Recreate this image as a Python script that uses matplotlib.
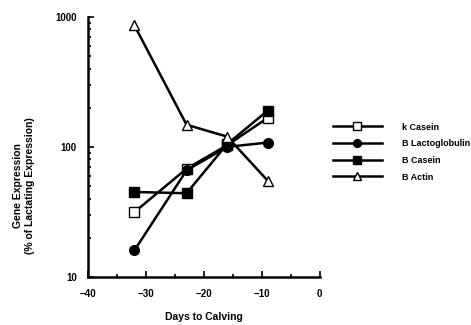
import matplotlib
matplotlib.use("Agg")
import matplotlib.pyplot as plt
from matplotlib.ticker import FixedLocator, NullFormatter

plt.rcParams['font.family'] = ['Liberation Sans', 'DejaVu Sans']

days = [-32, -23, -16, -9]
k_casein = [31.5, 68, 103, 167]
b_lacto = [16, 66, 100, 108]
b_casein = [45, 44, 105, 190]
b_actin = [860, 148, 120, 55]

series = [
    ("k Casein", k_casein, dict(marker='s', mfc='white')),
    ("B Lactoglobulin", b_lacto, dict(marker='o', mfc='black')),
    ("B Casein", b_casein, dict(marker='s', mfc='black')),
    ("B Actin", b_actin, dict(marker='^', mfc='white')),
]

fig = plt.figure(figsize=(4.71, 3.25), dpi=100)
ax = fig.add_axes([0.187, 0.148, 0.492, 0.8])

for label, vals, st in series:
    ax.plot(days, vals, color='black', lw=1.8, mec='black', mew=1.0, ms=7,
            label=label, **st)

ax.set_yscale('log')
ax.set_ylim(10, 1000)
ax.set_xlim(-40, 0)
ax.set_xticks([-40, -30, -20, -10, 0])
ax.xaxis.set_minor_locator(FixedLocator([-35, -25, -15, -5]))
ax.set_yticks([10, 100, 1000])
ax.set_yticklabels(['10', '100', '1000'])
ax.yaxis.set_minor_formatter(NullFormatter())

for s in ['top', 'right']:
    ax.spines[s].set_visible(False)
for s in ['left', 'bottom']:
    ax.spines[s].set_linewidth(1.8)

ax.tick_params(axis='both', which='both', direction='in', width=1.2, labelsize=7)
ax.tick_params(axis='both', which='major', length=4)
ax.tick_params(axis='both', which='minor', length=2.5)
ax.tick_params(axis='y', pad=8)
ax.tick_params(axis='x', pad=9)
for t in ax.get_xticklabels() + ax.get_yticklabels():
    t.set_fontweight('bold')

ax.set_xlabel('Days to Calving', fontsize=7.5, fontweight='bold')
ax.xaxis.set_label_coords(0.5, -0.135)
ax.set_ylabel('Gene Expression\n(% of Lactating Expression)', fontsize=7.5,
              fontweight='bold')
ax.yaxis.set_label_coords(-0.23, 0.35)

leg = ax.legend(loc='center left', bbox_to_anchor=(1.02, 0.48), frameon=False,
                handlelength=5.5, handletextpad=2.2, markerscale=0.8,
                labelspacing=0.85, prop={'weight': 'bold', 'size': 6.5})

fig.savefig('out.png', dpi=100)
